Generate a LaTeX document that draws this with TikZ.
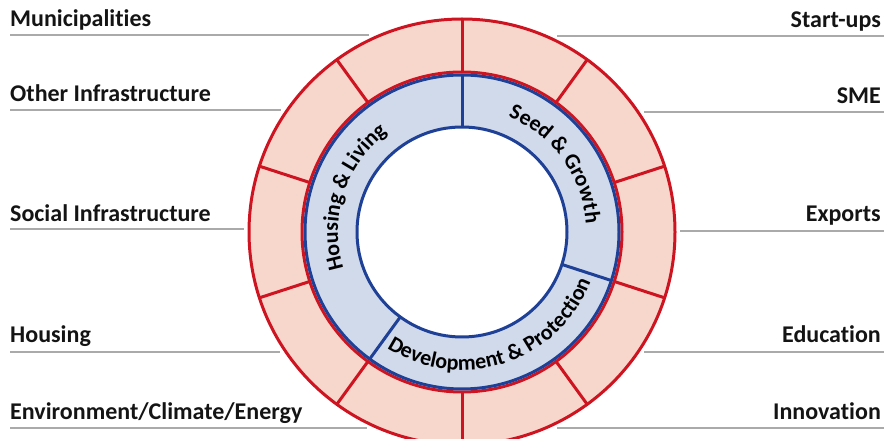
\documentclass[tikz,border=0pt]{standalone}
\usepackage{fontspec}
\setmainfont{Carlito}[Ligatures={NoCommon}]
\usetikzlibrary{decorations.text}
\definecolor{ringred}{RGB}{206,20,32}
\definecolor{ringpink}{RGB}{247,215,204}
\definecolor{ringblue}{RGB}{30,64,150}
\definecolor{ringlight}{RGB}{208,218,234}
\definecolor{linegray}{RGB}{170,170,170}
\newcommand\labfont{\fontsize{24}{28}\selectfont\bfseries}
\newcommand\ringfont{\fontsize{22}{26}\selectfont\bfseries}
\begin{document}
\begin{tikzpicture}[x=1pt,y=1pt,
  lab/.style={inner sep=0pt, font=\labfont, text=black!92},
  uline/.style={draw=linegray, line width=1.5pt},
  redline/.style={draw=ringred, line width=3pt},
  blueline/.style={draw=ringblue, line width=3pt},
  ringtext/.style={decorate, decoration={text along path, text align=center, text={|\ringfont|#1}}}]
\useasboundingbox (0,0) rectangle (884,439);
\coordinate (C) at (462,207);
% rings
\fill[ringpink, even odd rule] (C) circle[radius=213pt] (C) circle[radius=160pt];
\fill[ringlight, even odd rule] (C) circle[radius=157pt] (C) circle[radius=105pt];
\foreach \a in {18,54,...,342}
  \draw[redline] ([shift={(\a:160pt)}]C) -- ([shift={(\a:213pt)}]C);
\foreach \a in {90,234,342}
  \draw[blueline] ([shift={(\a:105pt)}]C) -- ([shift={(\a:157pt)}]C);
\draw[redline] (C) circle[radius=213pt];
\draw[redline] (C) circle[radius=160pt];
\draw[blueline] (C) circle[radius=157pt];
\draw[blueline] (C) circle[radius=105pt];
% ring texts
\path[ringtext={Housing {\&} Living}] ([shift={(234:124pt)}]C) arc[start angle=234, end angle=90, radius=124pt];
\path[ringtext={Seed {\&} Growth}] ([shift={(90:124pt)}]C) arc[start angle=90, end angle=-18, radius=124pt];
\path[ringtext={Development {\&} Protection}] ([shift={(234:138pt)}]C) arc[start angle=234, end angle=342, radius=138pt];
% left labels
\node[lab, anchor=base west] (muni) at (10,412) {Municipalities};
\coordinate (muniA) at (10,404); \coordinate (muniB) at (368.6,404);
\draw[uline] (muniA) -- (muniB);
\node[lab, anchor=base west] (other) at (10,337) {Other Infrastructure};
\coordinate (otherA) at (10,329); \coordinate (otherB) at (281.3,329);
\draw[uline] (otherA) -- (otherB);
\node[lab, anchor=base west] (social) at (10,217) {Social Infrastructure};
\coordinate (socialA) at (10,210); \coordinate (socialB) at (244,210);
\draw[uline] (socialA) -- (socialB);
\node[lab, anchor=base west] (housing) at (10,96) {Housing};
\coordinate (housingA) at (10,87); \coordinate (housingB) at (280,87);
\draw[uline] (housingA) -- (housingB);
\node[lab, anchor=base west] (env) at (10,19) {Environment/Climate/Energy};
\coordinate (envA) at (10,11); \coordinate (envB) at (366.6,11);
\draw[uline] (envA) -- (envB);
% right labels
\node[lab, anchor=base east] (start) at (881,411) {Start-ups};
\coordinate (startA) at (557.4,403); \coordinate (startB) at (884,403);
\draw[uline] (startA) -- (startB);
\node[lab, anchor=base east] (sme) at (881,335) {SME};
\coordinate (smeA) at (644,327); \coordinate (smeB) at (884,327);
\draw[uline] (smeA) -- (smeB);
\node[lab, anchor=base east] (exp) at (881,217) {Exports};
\coordinate (expA) at (680,208); \coordinate (expB) at (884,208);
\draw[uline] (expA) -- (expB);
\node[lab, anchor=base east] (edu) at (881,96) {Education};
\coordinate (eduA) at (644,87); \coordinate (eduB) at (884,87);
\draw[uline] (eduA) -- (eduB);
\node[lab, anchor=base east] (inno) at (881,19) {Innovation};
\coordinate (innoA) at (557.4,11); \coordinate (innoB) at (884,11);
\draw[uline] (innoA) -- (innoB);
\end{tikzpicture}
\end{document}
